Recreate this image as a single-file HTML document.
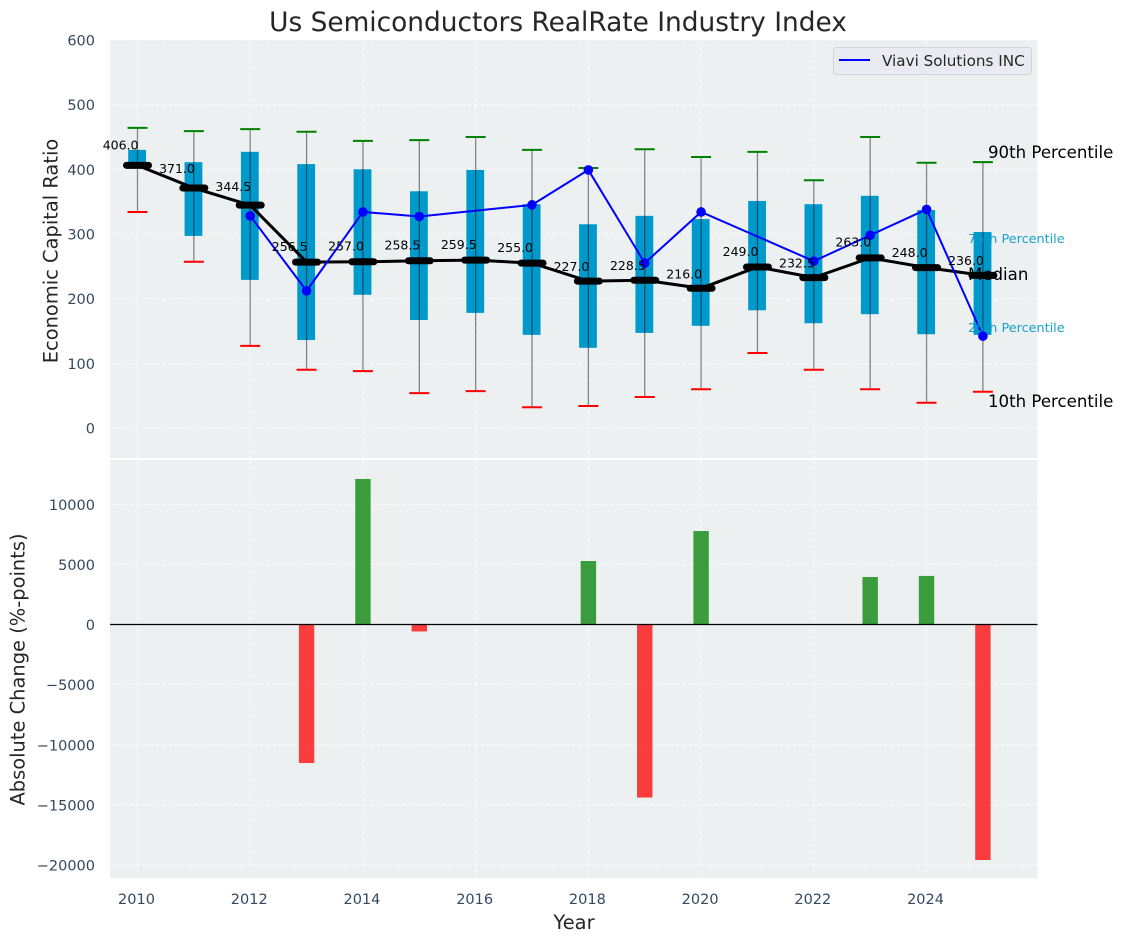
<!DOCTYPE html>
<html lang="en">
<head>
<meta charset="utf-8">
<title>Us Semiconductors RealRate Industry Index</title>
<style>
html,body{margin:0;padding:0;background:#fff;width:1123px;height:942px;overflow:hidden}
svg{display:block;font-family:"DejaVu Sans","Liberation Sans",sans-serif}
</style>
</head>
<body>
<svg id="chart" xmlns="http://www.w3.org/2000/svg" width="1123" height="942" viewBox="0 0 1123 942"></svg>
<script>
var years = [2010,2011,2012,2013,2014,2015,2016,2017,2018,2019,2020,2021,2022,2023,2024,2025];
var p90 = [464,459,462,458,444,445,450,430,402,431,419,427,383,450,410,411];
var p75 = [430,411,427,408,400,366,399,346,315,328,323,351,346,359,337,303];
var medians = [406,371,344.5,256.5,257,258.5,259.5,255,227,228.5,216,249,232.5,263,248,236];
var p25 = [402,297,229,136,206,167,178,144,124,147,158,182,162,176,145,144];
var p10 = [334,257,127,90,88,54,57,32,34,48,60,116,90,60,39,56];
var companyYears = [2012,2013,2014,2015,2017,2018,2019,2020,2022,2023,2024,2025];
var companyValues = [328,212,334,327,345,399,255,334,258,298,338,142];
var changeYears = [2013,2014,2015,2018,2019,2020,2023,2024,2025];
var changeValues = [-11520,12100,-580,5280,-14390,7775,3950,4040,-19585];
var xTicks = [2010,2012,2014,2016,2018,2020,2022,2024];
var topTicks = [0,100,200,300,400,500,600];
var bottomTicks = [10000,5000,0,-5000,-10000,-15000,-20000];

var NS = 'http://www.w3.org/2000/svg';
var svg = document.getElementById('chart');
var plotLeft = 110, plotRight = 1037.5;
var tickColor = '#34495e';

function xScale(year){ return 137.5 + (year - 2010) * 56.36; }
function yTop(v){ return 428 - v * 0.6468; }
function yBottom(v){ return 624.5 - v * 0.012025; }

function mk(tag, attrs, text){
  var node = document.createElementNS(NS, tag);
  for (var k in attrs) node.setAttribute(k, attrs[k]);
  if (text !== undefined) node.textContent = text;
  svg.appendChild(node);
  return node;
}
var el, i;

el = mk('rect', {x:plotLeft, y:40, width:plotRight-plotLeft, height:418, fill:'#ecf0f1'});


el = mk('rect', {x:plotLeft, y:460, width:plotRight-plotLeft, height:418, fill:'#ecf0f1'});



xTicks.forEach(function(t){
  var gx = xScale(t);
  var a = mk('line', {x1:gx, x2:gx, y1:40, y2:458, stroke:'#fff', 'stroke-width':1, 'stroke-dasharray':'4 2.5', opacity:0.85});
  
  
  var b = mk('line', {x1:gx, x2:gx, y1:460, y2:878, stroke:'#fff', 'stroke-width':1, 'stroke-dasharray':'4 2.5', opacity:0.85});
  
  
  var c = mk('text', {x:gx - 1, y:904, 'text-anchor':'middle', 'font-size':14.5, fill:tickColor}, String(t));
  
  
});

topTicks.forEach(function(t){
  var gy = yTop(t);
  var a = mk('line', {x1:plotLeft, x2:plotRight, y1:gy, y2:gy, stroke:'#fff', 'stroke-width':1, 'stroke-dasharray':'4 2.5', opacity:0.85});
  
  
  var b = mk('text', {x:95, y:gy + 5.5, 'text-anchor':'end', 'font-size':14.5, fill:tickColor}, String(t));
  
  
});

bottomTicks.forEach(function(t){
  var gy = yBottom(t);
  var a = mk('line', {x1:plotLeft, x2:plotRight, y1:gy, y2:gy, stroke:'#fff', 'stroke-width':1, 'stroke-dasharray':'4 2.5', opacity:0.85});
  
  
  var b = mk('text', {x:95, y:gy + 5.5, 'text-anchor':'end', 'font-size':14.5, fill:tickColor}, String(t).replace('-', '\u2212'));
  
  
});

for (i = 0; i < years.length; i++) {
  var cx = xScale(years[i]);
  el = mk('rect', {x:cx - 9.3, y:yTop(p75[i]), width:17.8, height:yTop(p25[i]) - yTop(p75[i]), fill:'#0099cc'});
  
  
  el = mk('line', {x1:cx, x2:cx, y1:yTop(p90[i]), y2:yTop(p10[i]), stroke:'#000', 'stroke-width':1.3, opacity:0.45});
  
  
  el = mk('line', {x1:cx - 10, x2:cx + 10, y1:yTop(p90[i]), y2:yTop(p90[i]), stroke:'#008000', 'stroke-width':2});
  
  
  el = mk('line', {x1:cx - 10, x2:cx + 10, y1:yTop(p10[i]), y2:yTop(p10[i]), stroke:'#ff0000', 'stroke-width':2});
  
  
}

el = mk('polyline', {
  points: years.map(function(y, j){ return xScale(y) + ',' + yTop(medians[j]); }).join(' '),
  fill:'none', stroke:'#000', 'stroke-width':3
});



for (i = 0; i < years.length; i++) {
  el = mk('line', {x1:xScale(years[i]) - 11, x2:xScale(years[i]) + 11, y1:yTop(medians[i]), y2:yTop(medians[i]), stroke:'#000', 'stroke-width':7, 'stroke-linecap':'round'});
  
  
}

el = mk('polyline', {
  points: companyYears.map(function(y, j){ return xScale(y) + ',' + yTop(companyValues[j]); }).join(' '),
  fill:'none', stroke:'#0000ff', 'stroke-width':2
});



for (i = 0; i < companyYears.length; i++) {
  el = mk('circle', {cx:xScale(companyYears[i]), cy:yTop(companyValues[i]), r:4.8, fill:'#0000ff'});
  
  
}

for (i = 0; i < years.length; i++) {
  el = mk('text', {x:xScale(years[i]) + 1, y:yTop(medians[i] * 1.052 + 10) + 4, 'text-anchor':'end', 'font-size':12.5, fill:'#000'}, medians[i].toFixed(1));
  
  
}

for (i = 0; i < changeYears.length; i++) {
  var v = changeValues[i];
  var by = yBottom(v), zy = yBottom(0);
  el = mk('rect', {x:xScale(changeYears[i]) - 7.7, y:Math.min(by, zy), width:15.4, height:Math.abs(by - zy), fill:v >= 0 ? '#008000' : '#ff0000', opacity:0.75});
  
  
}

el = mk('line', {x1:plotLeft, x2:plotRight, y1:yBottom(0), y2:yBottom(0), stroke:'#000', 'stroke-width':1.2});


</script>
<script>
(function(){
  var NS = 'http://www.w3.org/2000/svg';
  var svg = document.getElementById('chart');
  var markup =
    '<text x="558" y="31" text-anchor="middle" font-size="26.4" fill="#262626">Us Semiconductors RealRate Industry Index</text>' +
    '<text transform="translate(57.5 251) rotate(-90)" text-anchor="middle" font-size="19.44" fill="#262626">Economic Capital Ratio</text>' +
    '<text transform="translate(24.5 669.5) rotate(-90)" text-anchor="middle" font-size="19.44" fill="#262626">Absolute Change (%-points)</text>' +
    '<text x="574" y="929" text-anchor="middle" font-size="19.44" fill="#262626">Year</text>' +
    '<text x="988" y="158" font-size="16.6" fill="#000">90th Percentile</text>' +
    '<text x="968" y="243" font-size="12.8" fill="#0099cc" opacity="0.9">75th Percentile</text>' +
    '<text x="968" y="280" font-size="16.6" fill="#000">Median</text>' +
    '<text x="968" y="332" font-size="12.8" fill="#0099cc" opacity="0.9">25th Percentile</text>' +
    '<text x="988" y="407" font-size="16.6" fill="#000">10th Percentile</text>' +
    '<g>' +
      '<rect x="833.5" y="47.5" width="198" height="27" rx="3" fill="#eaeaf2" stroke="#d3d3d8"/>' +
      '<line x1="839" x2="870" y1="60" y2="60" stroke="#0000ff" stroke-width="2"/>' +
      '<text x="882" y="66" font-size="15.2" fill="#262626">Viavi Solutions INC</text>' +
    '</g>';
  var holder = document.createElementNS(NS, 'g');
  
  
  holder.innerHTML = markup;
  svg.appendChild(holder);
})();
</script>
</body>
</html>
